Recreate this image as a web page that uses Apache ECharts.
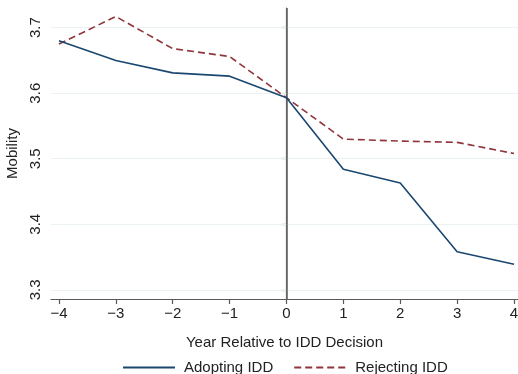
<!DOCTYPE html>
<html>
<head>
<meta charset="utf-8">
<script src="https://cdn.jsdelivr.net/npm/echarts@6/dist/echarts.min.js"></script>
<style>
  html, body { margin: 0; padding: 0; background: #ffffff; }
  #chart { width: 518px; height: 374px; }
</style>
</head>
<body>
<div id="chart"></div>
<script>
// Data
const years = [-4, -3, -2, -1, 0, 1, 2, 3, 4];
const adoptingIDD = [3.680, 3.650, 3.631, 3.626, 3.593, 3.484, 3.463, 3.358, 3.339];
const rejectingIDD = [3.675, 3.717, 3.668, 3.656, 3.593, 3.530, 3.527, 3.525, 3.508];
const yTicks = [3.3, 3.4, 3.5, 3.6, 3.7];
const xTicks = [-4, -3, -2, -1, 0, 1, 2, 3, 4];
const seriesNames = ['Adopting IDD', 'Rejecting IDD'];
const xTitle = 'Year Relative to IDD Decision';
const yTitle = 'Mobility';

const FONT = '"Liberation Sans", Arial, Helvetica, sans-serif';
const pairs = (ys) => years.map((x, i) => [x, ys[i]]);

const chart = echarts.init(document.getElementById('chart'), null, { renderer: 'canvas' });
chart.setOption({
  animation: false,
  backgroundColor: '#ffffff',
  textStyle: { fontFamily: FONT },
  grid: { left: 51, right: 0, top: 8, bottom: 75, containLabel: false, outerBoundsMode: 'none' },
  legend: {
    bottom: -6,
    left: 117,
    itemWidth: 52,
    itemHeight: 14,
    itemGap: 20,
    data: seriesNames,
    itemStyle: { color: 'rgba(0,0,0,0)', borderWidth: 0, opacity: 0 },
    textStyle: { fontFamily: FONT, fontSize: 15, color: '#222222', padding: [0, 0, 0, 4] }
  },
  xAxis: {
    type: 'value',
    min: -4.14,
    max: 4.07,
    name: xTitle,
    nameLocation: 'middle',
    nameGap: 36,
    nameTextStyle: { fontFamily: FONT, fontSize: 15, color: '#222222' },
    axisLine: { show: true, lineStyle: { color: '#5a5a5a', width: 1.2 } },
    axisTick: { show: true, customValues: xTicks, length: 5, lineStyle: { color: '#5a5a5a', width: 1.2 } },
    axisLabel: {
      customValues: xTicks,
      margin: 7,
      fontFamily: FONT, fontSize: 15, color: '#222222',
      formatter: (v) => String(v).replace('-', '\u2212')
    },
    splitLine: { show: false }
  },
  yAxis: {
    type: 'value',
    min: 3.286,
    max: 3.73,
    name: yTitle,
    nameLocation: 'middle',
    nameGap: 27,
    nameRotate: 90,
    nameTextStyle: { fontFamily: FONT, fontSize: 15, color: '#222222' },
    axisLine: { show: true, lineStyle: { color: '#5a5a5a', width: 1.2 } },
    axisTick: { show: true, customValues: yTicks, length: 5, lineStyle: { color: '#5a5a5a', width: 1.2 } },
    axisLabel: {
      customValues: yTicks,
      rotate: 90,
      margin: 8,
      fontFamily: FONT, fontSize: 15, color: '#222222',
      formatter: (v) => v.toFixed(1)
    },
    splitLine: { show: false }
  },
  series: [
    {
      name: '__grid',
      type: 'line',
      data: [],
      z: 1,
      silent: true,
      markLine: {
        silent: true,
        z: 1,
        symbol: 'none',
        label: { show: false },
        lineStyle: { color: '#eaf2f3', width: 1.2, type: 'solid' },
        data: yTicks.map(v => ({ yAxis: v }))
      }
    },
    {
      name: '__vline',
      type: 'line',
      data: [],
      z: 2,
      silent: true,
      markLine: {
        silent: true,
        z: 2,
        symbol: 'none',
        label: { show: false },
        lineStyle: { color: '#666666', width: 1.6, type: 'solid' },
        data: [{ xAxis: 0 }]
      }
    },
    {
      name: seriesNames[0],
      type: 'line',
      data: pairs(adoptingIDD),
      symbol: 'none',
      showSymbol: false,
      z: 4,
      lineStyle: { color: '#1a476f', width: 1.6 },
      itemStyle: { color: '#1a476f' }
    },
    {
      name: seriesNames[1],
      type: 'line',
      data: pairs(rejectingIDD),
      symbol: 'none',
      showSymbol: false,
      z: 3,
      lineStyle: { color: '#90353b', width: 1.6, type: [7, 4] },
      itemStyle: { color: '#90353b' }
    }
  ]
});
</script>
</body>
</html>
